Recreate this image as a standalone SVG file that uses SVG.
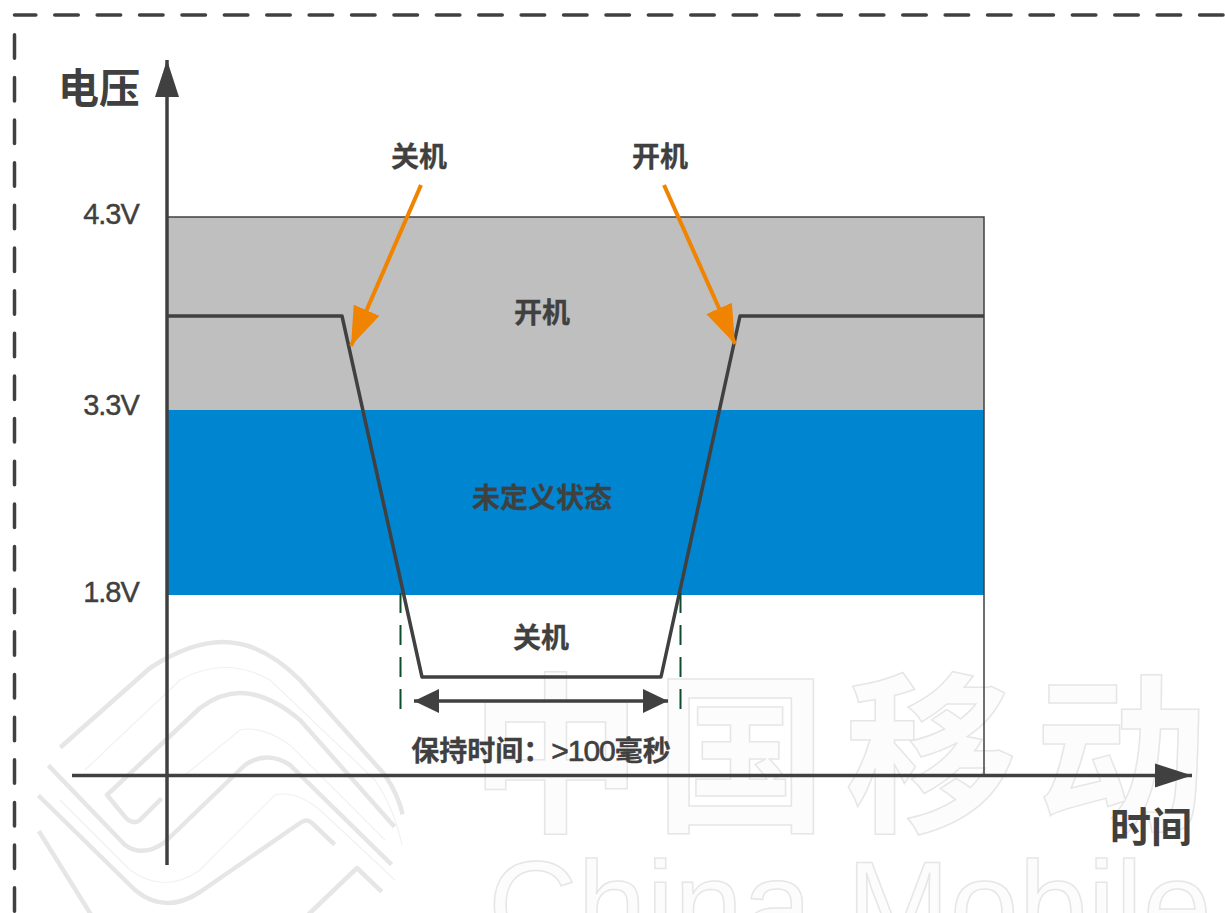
<svg xmlns="http://www.w3.org/2000/svg" width="1225" height="913" viewBox="0 0 1225 913">
<defs>
<style>
text{font-family:"Liberation Sans","Noto Sans CJK SC",sans-serif;fill:#404040}
.cn{font-weight:bold;font-size:28px;text-anchor:middle;stroke:#404040;stroke-width:.3}
.big{font-weight:bold;font-size:40px;text-anchor:middle}
.v{font-size:29px;text-anchor:middle;letter-spacing:-1px;stroke:#404040;stroke-width:.4}
.num{font-weight:normal;font-size:30px;letter-spacing:-1px;stroke:#404040;stroke-width:.6}
.wm{stroke:#e6e6e6;stroke-width:1.5}
.lg{fill:none;stroke:#e6e6e6;stroke-width:4.5;stroke-linecap:square;stroke-linejoin:round}
.lt{fill:none;stroke:#f1f1f1;stroke-width:1.2}
.ax{fill:none;stroke:#404040;stroke-width:3.5;stroke-linecap:round}
.gd{fill:none;stroke:#0f4d2a;stroke-width:2;stroke-dasharray:20 12}
.or{fill:none;stroke:#f08300;stroke-width:4}
.dash{fill:none;stroke:#404040;stroke-width:3.5;stroke-linecap:round}
</style>
<marker id="ah" markerUnits="userSpaceOnUse" markerWidth="38" markerHeight="26" refX="37" refY="13" orient="auto-start-reverse"><path d="M0,1 L37,13 L0,25 Z" fill="#404040"/></marker>
<marker id="ah2" markerUnits="userSpaceOnUse" markerWidth="26" markerHeight="26" refX="25" refY="13" orient="auto-start-reverse"><path d="M0,1 L25,13 L0,25 Z" fill="#404040"/></marker>
<marker id="ao" markerUnits="userSpaceOnUse" markerWidth="40" markerHeight="30" refX="39" refY="15" orient="auto"><path d="M0,1 L39,15 L0,29 Z" fill="#f08300"/></marker>
</defs>
<rect width="1225" height="913" fill="#ffffff"/>
<g id="watermark">
<path class="lg" d="M62,746 L150,668 Q190,642 223,642 Q262,642 300,680 L385,775 Q398,795 402,812"/>
<path class="lg" d="M160,800 L140,820 Q133,825 126,818 L107,795 L200,708 Q220,693 240,693 Q268,693 300,720 L393,825"/>
<path class="lg" d="M50,767 L125,845 Q143,858 165,842 L245,765 Q267,750 290,765 L390,863"/>
<path class="lg" d="M40,797 L135,890 Q165,915 200,892 L300,823 Q307,818 312,823 L333,843"/>
<path class="lg" d="M40,833 L90,913"/>
<path class="lg" d="M310,913 L357,868 L380,890"/>
<path class="lt" d="M85,770 L180,680 Q225,655 270,680 L375,780 Q395,810 402,845"/>
<path class="lt" d="M185,775 L240,730 Q262,725 290,745 L385,840"/>
<path class="lt" d="M60,800 L130,870 Q165,895 200,870 L275,795 Q295,790 320,810 L395,880"/>
<text class="wm" y="818" font-size="172" font-weight="bold" x="470 655 845 1035" style="font-family:'Noto Sans CJK SC',sans-serif;fill:#fcfcfc">中国移动</text>
<text class="wm" x="488" y="948" font-size="124" style="fill:#fcfcfc">China Mobile</text>
</g>
<g id="frame"><path class="dash" d="M14.5,34.750 V913" stroke-dasharray="23.5 19.15"/><path class="dash" d="M14.500,15 H1225" stroke-dasharray="23.5 18.9" stroke-dashoffset="2.15"/></g>
<g id="zone-on"><rect x="168" y="217" width="816" height="193" fill="#bfbfbf"/><text class="cn" x="542" y="323">开机</text></g>
<g id="zone-undefined"><rect x="168" y="410" width="816" height="185" fill="#0085d0"/><text class="cn" x="542" y="508">未定义状态</text></g>
<g id="zone-off"><text class="cn" x="541" y="648">关机</text></g>
<g id="labels">
<text class="big" x="99" y="103" font-size="41" style="font-size:41px">电压</text>
<text class="big" x="1151" y="842" style="font-size:41px">时间</text>
<text class="v" x="111" y="224">4.3V</text>
<text class="v" x="111" y="415">3.3V</text>
<text class="v" x="111" y="602">1.8V</text>
<text class="cn" x="419" y="167">关机</text>
<text class="cn" x="660" y="167">开机</text>
<text class="cn" x="541" y="761">保持时间：<tspan class="num">&gt;100</tspan>毫秒</text>
</g>
<g id="connectors">
<path d="M168,217 H984 V775" fill="none" stroke="#404040" stroke-width="1.5"/>
<path class="ax" d="M167,865 V60" stroke-linecap="butt" marker-end="url(#ah)" style="stroke-linecap:butt"/>
<path class="ax" d="M72,775.500 H1192" style="stroke-linecap:butt" marker-end="url(#ah)"/>
<path d="M168,316 H342 L422,677 H661 L740,316 H984" fill="none" stroke="#404040" stroke-width="3.5" stroke-linejoin="round"/>
<path class="gd" d="M400.500,593 V710"/>
<path class="gd" d="M680.500,593 V710"/>
<path d="M414,701 H668" fill="none" stroke="#404040" stroke-width="3.5" marker-start="url(#ah2)" marker-end="url(#ah2)"/>
<path class="or" d="M421,185 L351,346" marker-end="url(#ao)"/>
<path class="or" d="M664,185 L735,344" marker-end="url(#ao)"/>
</g>
</svg>
